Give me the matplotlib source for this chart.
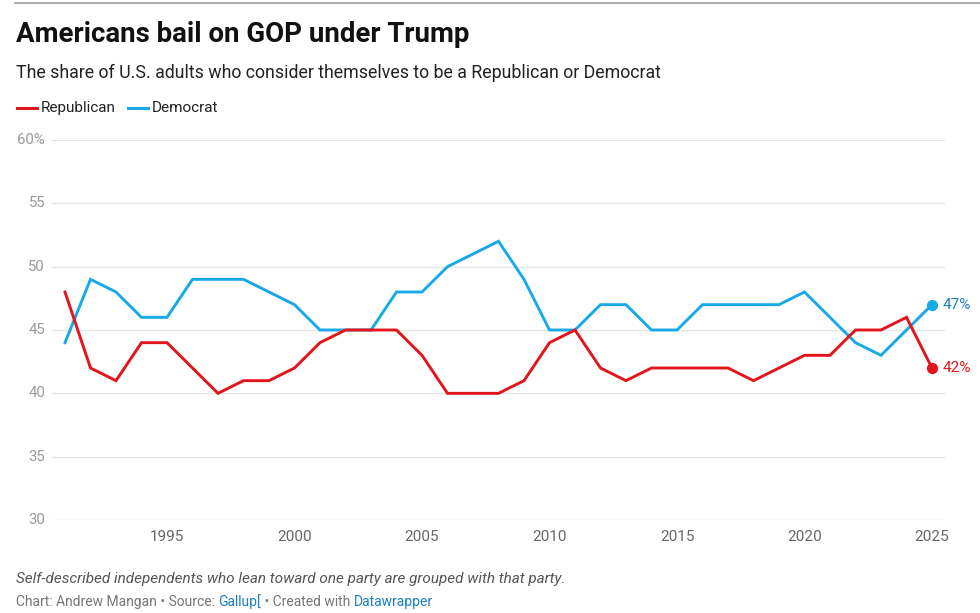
import matplotlib
matplotlib.use("Agg")
import matplotlib.pyplot as plt
from matplotlib.lines import Line2D

years = list(range(1991, 2026))
republican = [48, 42, 41, 44, 44, 42, 40, 41, 41, 42, 44, 45, 45, 45, 43, 40, 40, 40, 41, 44,
              45, 42, 41, 42, 42, 42, 42, 41, 42, 43, 43, 45, 45, 46, 42]
democrat = [44, 49, 48, 46, 46, 49, 49, 49, 48, 47, 45, 45, 45, 48, 48, 50, 51, 52, 49, 45,
            45, 47, 47, 45, 45, 47, 47, 47, 47, 48, 46, 44, 43, 45, 47]
y_ticks = [30, 35, 40, 45, 50, 55, 60]
y_tick_labels = ["30", "35", "40", "45", "50", "55", "60%"]
x_ticks = [1995, 2000, 2005, 2010, 2015, 2020, 2025]

RED = "#e3151c"
BLUE = "#18a9e8"
RED_LBL = "#e3151c"
BLUE_LBL = "#1a7fc4"
FONT = "Roboto"

W, H = 980, 613
fig = plt.figure(figsize=(W / 100, H / 100), dpi=100)
fig.patch.set_facecolor("white")

def fx(x):
    return x / W

def fy(y):
    return 1 - y / H

# axes: grid from x=52 to 945, y 140 (60) to 520 (30)
ppy = (932 - 65) / 34.0
x_left_px, x_right_px = 52, 945
xlim0 = 1991 - (65 - x_left_px) / ppy
xlim1 = 2025 + (x_right_px - 932) / ppy
ax = fig.add_axes([fx(x_left_px), fy(520), fx(x_right_px - x_left_px), (520 - 140) / H])
ax.set_xlim(xlim0, xlim1)
ax.set_ylim(30, 60)
for s in ax.spines.values():
    s.set_visible(False)
ax.set_yticks(y_ticks)
ax.set_yticklabels([])
ax.set_xticks(x_ticks)
ax.set_xticklabels([])
ax.tick_params(length=0)
ax.grid(axis="y", color="#e6e6e6", linewidth=1.0)
ax.set_axisbelow(True)

ax.plot(years, democrat, color=BLUE, linewidth=2.1, clip_on=False, solid_joinstyle="miter", zorder=3)
ax.plot(years, republican, color=RED, linewidth=2.1, clip_on=False, solid_joinstyle="miter", zorder=4)
ax.scatter([years[-1]], [democrat[-1]], s=50, color=BLUE, zorder=5, clip_on=False)
ax.scatter([years[-1]], [republican[-1]], s=50, color=RED, zorder=5, clip_on=False)

# y tick labels
for v, lbl in zip(y_ticks, y_tick_labels):
    ax.annotate(lbl, xy=(xlim0, v), xycoords="data", xytext=(-7, 0), textcoords="offset pixels",
                ha="right", va="center", fontsize=10.7, color="#9a9a9a", family=FONT)
# x tick labels
for v in x_ticks:
    ax.annotate(str(v), xy=(v, 30), xycoords="data", xytext=(0, -17), textcoords="offset pixels",
                ha="center", va="center", fontsize=11, color="#666666", family=FONT)

# end labels
ax.annotate(f"{democrat[-1]}%", xy=(years[-1], democrat[-1]), xytext=(11, 0), textcoords="offset pixels",
            ha="left", va="center", fontsize=11, color=BLUE_LBL, family=FONT, annotation_clip=False)
ax.annotate(f"{republican[-1]}%", xy=(years[-1], republican[-1]), xytext=(11, 0), textcoords="offset pixels",
            ha="left", va="center", fontsize=11, color=RED_LBL, family=FONT, annotation_clip=False)

# top rule
fig.add_artist(Line2D([fx(15), fx(980)], [fy(3), fy(3)], color="#b0b0b0", linewidth=1.5))

# title & subtitle
fig.text(fx(16), fy(35), "Americans bail on GOP under Trump", fontsize=19.9, fontweight="bold",
         family=FONT, color="#111111", va="center", ha="left")
fig.text(fx(16), fy(73), "The share of U.S. adults who consider themselves to be a Republican or Democrat",
         fontsize=12.75, family=FONT, color="#222222", va="center", ha="left")

# legend
fig.add_artist(Line2D([fx(17), fx(37)], [fy(108), fy(108)], color=RED, linewidth=2.2))
fig.text(fx(41), fy(108), "Republican", fontsize=11, family=FONT, color="#222222", va="center", ha="left")
fig.add_artist(Line2D([fx(128), fx(148)], [fy(108), fy(108)], color=BLUE, linewidth=2.2))
fig.text(fx(152), fy(108), "Democrat", fontsize=11, family=FONT, color="#222222", va="center", ha="left")

# footnote
fig.text(fx(16), fy(579), "Self-described independents who lean toward one party are grouped with that party.",
         fontsize=10.95, family=FONT, style="italic", color="#555555", va="center", ha="left")

# credit line with colored pieces
fig.canvas.draw()
renderer = fig.canvas.get_renderer()
pieces = [("Chart: Andrew Mangan • Source: ", "#777777"), ("Gallup[", BLUE_LBL),
          (" • Created with ", "#777777"), ("Datawrapper", BLUE_LBL)]
x = 16
for txt, col in pieces:
    t = fig.text(fx(x), fy(602), txt, fontsize=10.0, family=FONT, color=col, va="center", ha="left")
    bb = t.get_window_extent(renderer=renderer)
    x += bb.width

fig.savefig("out.png", dpi=100, facecolor="white")
